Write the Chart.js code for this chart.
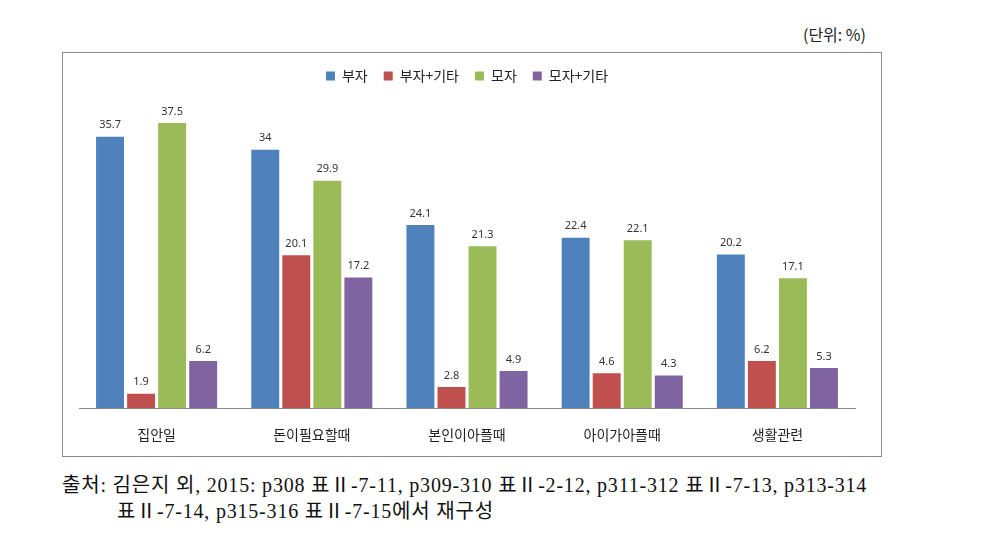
<!DOCTYPE html>
<html>
<head>
<meta charset="utf-8">
<script src="https://cdn.jsdelivr.net/npm/chart.js@4"></script>
<style>
  body { margin: 0; background: #fff; width: 988px; height: 544px; position: relative; font-family: "Noto Sans CJK KR", sans-serif; }
  #unit { position: absolute; left: 790px; top: 22px; width: 76px; text-align: right; font-size: 16px; color: #222; }
  #box { position: absolute; left: 62px; top: 52px; width: 818px; height: 403px; border: 1px solid #8c8c8c; }
  #source { position: absolute; left: 62px; top: 472px; font-family: "Liberation Serif", "Noto Sans CJK KR", serif; font-size: 20px; letter-spacing: 0.8px; line-height: 26px; color: #111; white-space: nowrap; }
  #source .indent { padding-left: 55px; }
</style>
</head>
<body>
<div id="unit">(단위: %)</div>
<div id="box"><canvas id="chart" width="818" height="403"></canvas></div>
<div id="source">출처: 김은지 외, 2015: p308 표Ⅱ-7-11, p309-310 표Ⅱ-2-12, p311-312 표Ⅱ-7-13, p313-314<br><span class="indent">표Ⅱ-7-14, p315-316 표Ⅱ-7-15에서 재구성</span></div>
<script>
var categories = ["집안일", "돈이필요할때", "본인이아플때", "아이가아플때", "생활관련"];
var father = [35.7, 34, 24.1, 22.4, 20.2];
var father_etc = [1.9, 20.1, 2.8, 4.6, 6.2];
var mother = [37.5, 29.9, 21.3, 22.1, 17.1];
var mother_etc = [6.2, 17.2, 4.9, 4.3, 5.3];

var series_names = ["부자", "부자+기타", "모자", "모자+기타"];
var series_colors = ["#4F81BD", "#C0504D", "#9BBB59", "#8064A2"];

// value labels above each bar
var barLabels = {
    id: 'barLabels',
    afterDatasetsDraw: function (chart) {
        var ctx = chart.ctx;
        ctx.save();
        ctx.font = "11px 'Noto Sans', sans-serif";
        ctx.fillStyle = "#333";
        ctx.textAlign = "center";
        ctx.textBaseline = "bottom";
        chart.data.datasets.forEach(function (ds, i) {
            chart.getDatasetMeta(i).data.forEach(function (bar, j) {
                ctx.fillText(String(ds.data[j]), bar.x, bar.y - 6);
            });
        });
        ctx.restore();
    }
};

// extra room under the legend
var legendSpace = {
    id: 'legendSpace',
    beforeInit: function (chart) {
        var fit = chart.legend.fit;
        chart.legend.fit = function () {
            fit.bind(chart.legend)();
            this.height += 11;
        };
    }
};

new Chart(document.getElementById("chart"), {
    type: 'bar',
    data: {
        labels: categories,
        datasets: [father, father_etc, mother, mother_etc].map(function (d, i) {
            return {
                label: series_names[i],
                data: d,
                backgroundColor: series_colors[i]
            };
        })
    },
    options: {
        responsive: false,
        animation: false,
        layout: { padding: { left: 16, right: 26, top: 0, bottom: 3 } },
        plugins: {
            legend: {
                position: 'top',
                labels: {
                    boxWidth: 9,
                    boxHeight: 9,
                    padding: 16,
                    color: "#222",
                    font: { size: 14, family: "'Noto Sans CJK KR', sans-serif" }
                }
            },
            tooltip: { enabled: false }
        },
        scales: {
            x: {
                grid: { display: false },
                border: { color: "#8c8c8c" },
                ticks: { color: "#222", padding: 10, font: { size: 14, family: "'Noto Sans CJK KR', sans-serif" } }
            },
            y: {
                display: false,
                min: 0,
                max: 40
            }
        }
    },
    plugins: [barLabels, legendSpace]
});
</script>
</body>
</html>
